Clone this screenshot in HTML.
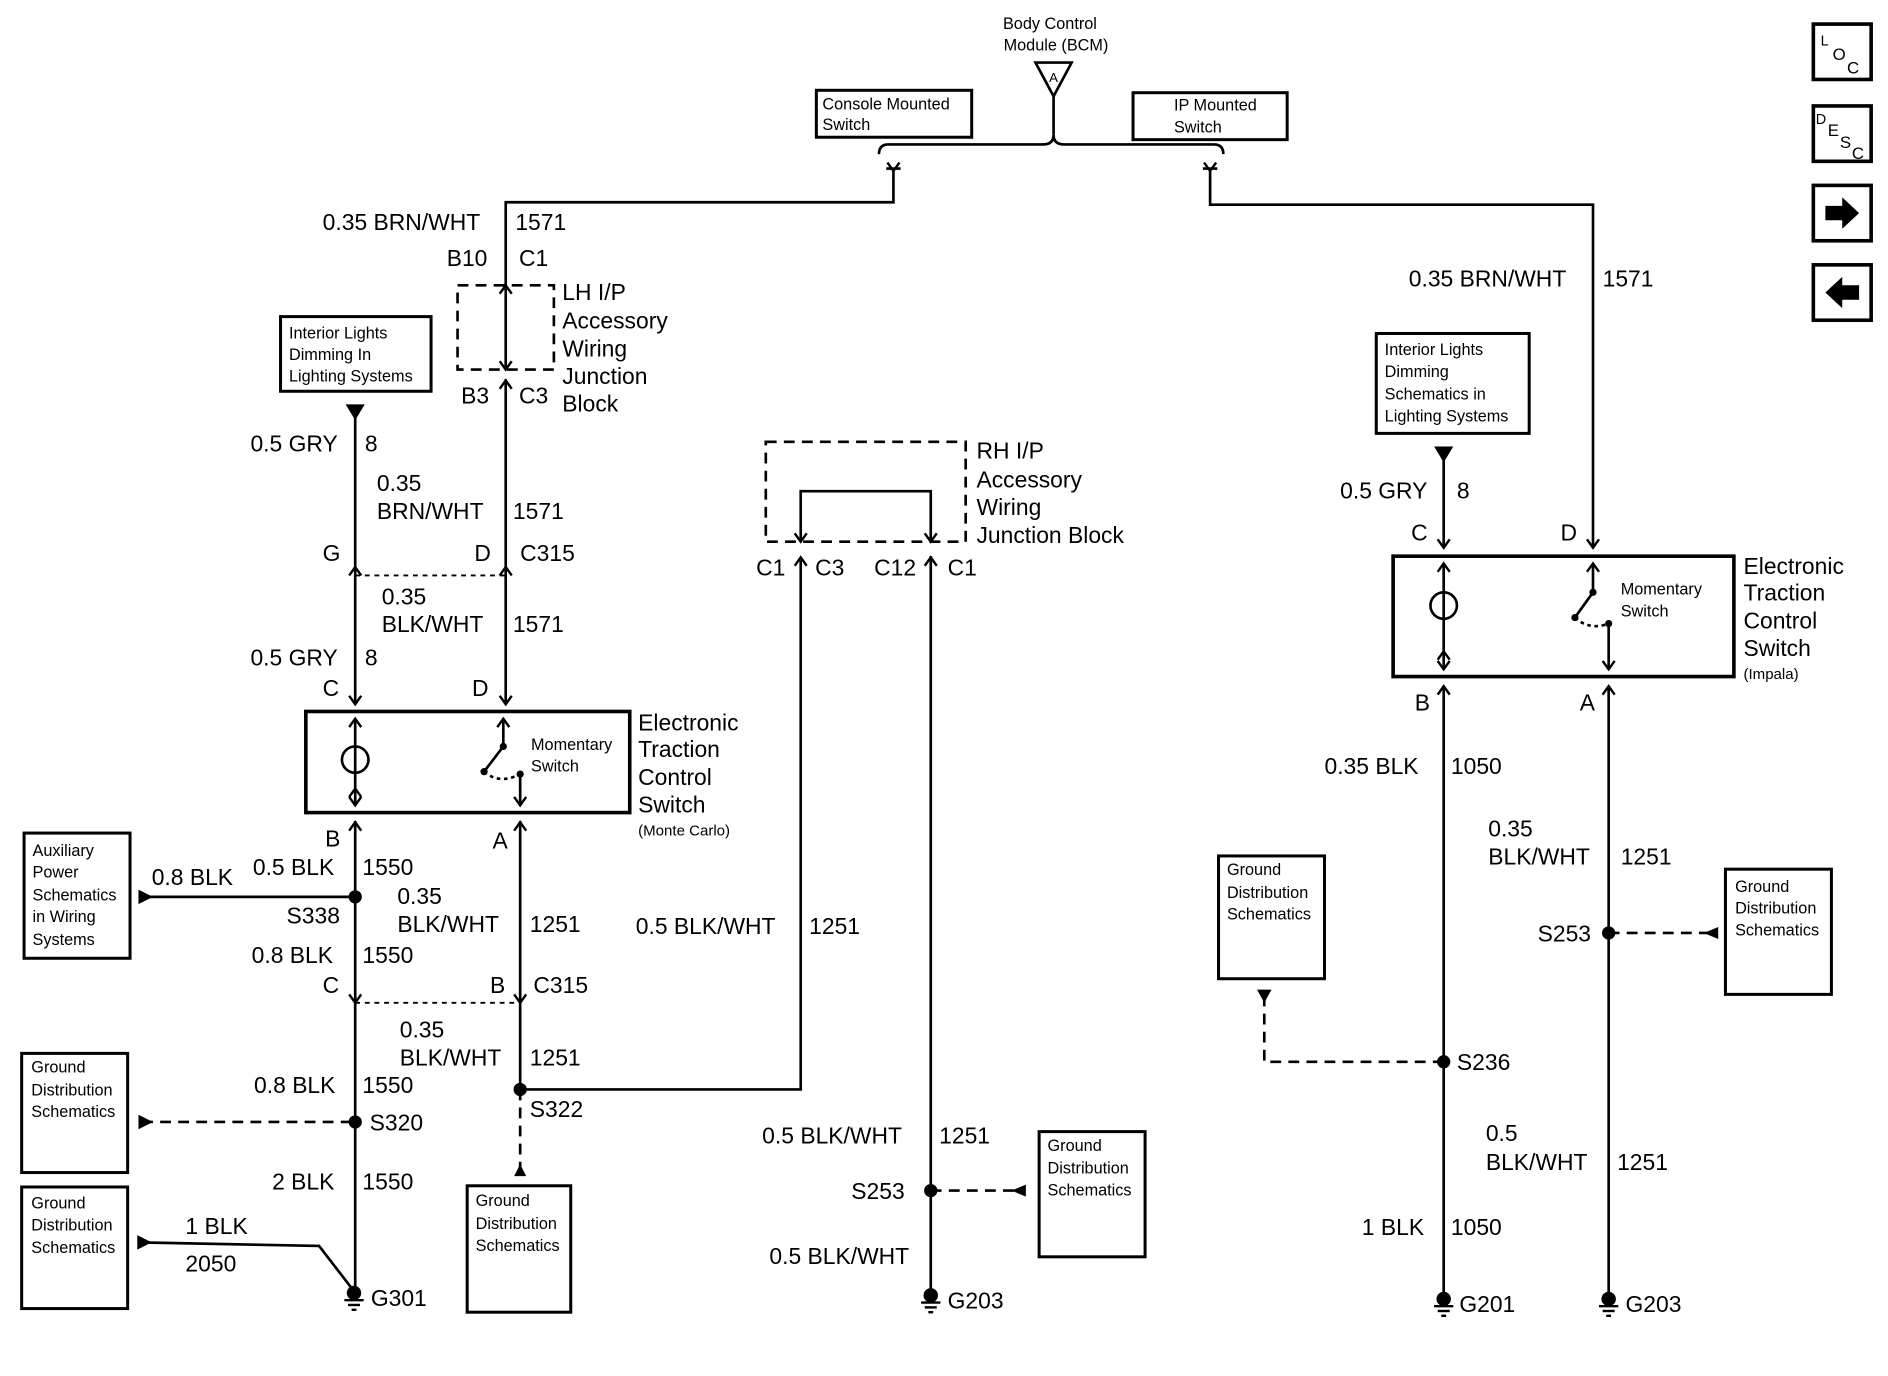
<!DOCTYPE html>
<html><head><meta charset="utf-8"><style>
html,body{margin:0;padding:0;background:#fff;}
svg{display:block;}
text{font-family:"Liberation Sans",Arial,sans-serif;fill:#000;}
.w{font-size:19px;}
.s{font-size:13.5px;}
.b{font-size:19px;}
</style></head><body>
<svg width="1888" height="1376" viewBox="0 0 1568 1143" preserveAspectRatio="none" xmlns="http://www.w3.org/2000/svg">
<defs>
<path id="fd" d="M-5,-7 L0,0 L5,-7" fill="none" stroke="#000" stroke-width="2"/>
<path id="fu" d="M-5,7 L0,0 L5,7" fill="none" stroke="#000" stroke-width="2"/>
<g id="gnd"><circle cx="0" cy="-4" r="6" fill="#000"/><line x1="-8" y1="2" x2="8" y2="2" stroke="#000" stroke-width="2"/><line x1="-5" y1="6" x2="5" y2="6" stroke="#000" stroke-width="2"/><line x1="-2" y1="10" x2="2" y2="10" stroke="#000" stroke-width="2"/></g>
<circle id="dot" r="5.5" fill="#000"/>
</defs>
<g stroke="#000" stroke-width="2.2" fill="none">
<path d="M860,52 L890,52 L875,80 Z"/>
<line x1="875" y1="80" x2="875" y2="112"/>
<path d="M730,128 Q730,120 738,120 L866,120 Q875,120 875,112 Q875,120 884,120 L1008,120 Q1016,120 1016,128"/>
<rect x="678" y="75" width="129" height="39" stroke-width="2.5"/>
<rect x="941" y="77" width="128" height="39" stroke-width="2.5"/>
<path d="M736,140 L748,140 M742,140 L742,168 L420,168 L420,240"/>
<path d="M999,140 L1011,140 M1005,140 L1005,170 L1323,170 L1323,455"/>
<rect x="380" y="237" width="80" height="70" stroke-dasharray="9,6"/>
<line x1="420" y1="240" x2="420" y2="305"/>
<line x1="420" y1="315" x2="420" y2="585"/>
<line x1="295" y1="345" x2="295" y2="585"/>
<path d="M289,337 L301,337 L295,347 Z" fill="#000"/>
<line x1="295" y1="478" x2="420" y2="478" stroke-dasharray="4,4" stroke-width="1.5"/>
<rect x="254" y="591" width="269" height="84" stroke-width="3"/>
<line x1="295" y1="597" x2="295" y2="669"/>
<circle cx="295" cy="631" r="11"/>
<line x1="418" y1="597" x2="418" y2="620"/>
<line x1="418" y1="620" x2="402" y2="641"/>
<line x1="432" y1="643" x2="432" y2="669"/>
<path d="M402,641 Q415,652 432,643" stroke-dasharray="3,3"/>
<line x1="295" y1="682" x2="295" y2="1070"/>
<line x1="432" y1="682" x2="432" y2="905"/>
<line x1="295" y1="833" x2="432" y2="833" stroke-dasharray="4,4" stroke-width="1.5"/>
<line x1="118" y1="745" x2="295" y2="745"/>
<line x1="118" y1="932" x2="295" y2="932" stroke-dasharray="9,6"/>
<path d="M115,1032 L265,1035 L292,1070"/>
<line x1="432" y1="905" x2="432" y2="972" stroke-dasharray="9,6"/>
<path d="M432,905 L665,905 L665,465"/>
<rect x="636" y="367" width="166" height="83" stroke-dasharray="9,6"/>
<path d="M665,448 L665,408 L773,408 L773,448"/>
<line x1="773" y1="462" x2="773" y2="1075"/>
<line x1="773" y1="989" x2="845" y2="989" stroke-dasharray="9,6"/>
<rect x="233" y="263" width="125" height="62" stroke-width="2.5"/>
<rect x="20" y="692" width="88" height="104" stroke-width="2.5"/>
<rect x="18" y="875" width="88" height="99" stroke-width="2.5"/>
<rect x="18" y="986" width="88" height="101" stroke-width="2.5"/>
<rect x="388" y="985" width="86" height="105" stroke-width="2.5"/>
<rect x="863" y="940" width="88" height="104" stroke-width="2.5"/>
<rect x="1143" y="277" width="127" height="83" stroke-width="2.5"/>
<rect x="1012" y="711" width="88" height="102" stroke-width="2.5"/>
<rect x="1433" y="722" width="88" height="104" stroke-width="2.5"/>
<line x1="1199" y1="380" x2="1199" y2="455"/>
<path d="M1193,372 L1205,372 L1199,382 Z" fill="#000"/>
<rect x="1157" y="462" width="283" height="100" stroke-width="3"/>
<line x1="1199" y1="468" x2="1199" y2="556"/>
<circle cx="1199" cy="503" r="11"/>
<line x1="1323" y1="468" x2="1323" y2="492"/>
<line x1="1323" y1="492" x2="1308" y2="513"/>
<line x1="1336" y1="518" x2="1336" y2="556"/>
<path d="M1308,513 Q1320,524 1336,518" stroke-dasharray="3,3"/>
<line x1="1199" y1="570" x2="1199" y2="1075"/>
<line x1="1336" y1="570" x2="1336" y2="1075"/>
<line x1="1336" y1="775" x2="1420" y2="775" stroke-dasharray="9,6"/>
<path d="M1199,882 L1050,882 L1050,825" stroke-dasharray="9,6"/>
<rect x="1506" y="20" width="48" height="46" stroke-width="3"/>
<rect x="1506" y="88" width="48" height="46" stroke-width="3"/>
<rect x="1506" y="154" width="48" height="46" stroke-width="3"/>
<rect x="1506" y="220" width="48" height="46" stroke-width="3"/>
</g>
<g fill="#000">
<path d="M127,745 L115,739 L115,751 Z"/>
<path d="M127,932 L115,926 L115,938 Z"/>
<path d="M126,1032 L114,1026 L114,1038 Z"/>
<path d="M432,967 L427,977 L437,977 Z"/>
<path d="M840,989 L852,984 L852,994 Z"/>
<path d="M1415,775 L1427,770 L1427,780 Z"/>
<path d="M1044,822 L1056,822 L1050,833 Z"/>
<path d="M1516,171 L1530,171 L1530,164 L1544,177 L1530,190 L1530,183 L1516,183 Z"/>
<path d="M1544,237 L1530,237 L1530,230 L1516,243 L1530,256 L1530,249 L1544,249 Z"/>
</g>
<use href="#fd" x="742" y="142"/><use href="#fd" x="1005" y="142"/>
<use href="#fu" x="420" y="237"/><use href="#fd" x="420" y="307"/><use href="#fu" x="420" y="316"/>
<use href="#fu" x="295" y="471"/><use href="#fu" x="420" y="471"/>
<use href="#fd" x="295" y="585"/><use href="#fd" x="420" y="585"/>
<use href="#fu" x="295" y="597"/><use href="#fu" x="418" y="597"/>
<use href="#fd" x="295" y="669"/><use href="#fd" x="432" y="669"/><use href="#fu" x="295" y="655"/>
<use href="#fu" x="295" y="683"/><use href="#fu" x="432" y="683"/>
<use href="#fd" x="295" y="833"/><use href="#fd" x="432" y="833"/>
<use href="#fd" x="665" y="450"/><use href="#fd" x="773" y="450"/>
<use href="#fu" x="665" y="463"/><use href="#fu" x="773" y="463"/>
<use href="#fd" x="1199" y="455"/><use href="#fd" x="1323" y="455"/>
<use href="#fu" x="1199" y="468"/><use href="#fu" x="1323" y="468"/>
<use href="#fd" x="1199" y="556"/><use href="#fd" x="1336" y="556"/><use href="#fu" x="1199" y="541"/>
<use href="#fu" x="1199" y="570"/><use href="#fu" x="1336" y="570"/>
<circle cx="418" cy="620" r="3" fill="#000"/><circle cx="402" cy="641" r="3" fill="#000"/><circle cx="432" cy="643" r="3" fill="#000"/>
<circle cx="1323" cy="492" r="3" fill="#000"/><circle cx="1308" cy="513" r="3" fill="#000"/><circle cx="1336" cy="518" r="3" fill="#000"/>
<use href="#dot" x="295" y="745"/><use href="#dot" x="295" y="932"/><use href="#dot" x="432" y="905"/>
<use href="#dot" x="773" y="989"/><use href="#dot" x="1199" y="882"/><use href="#dot" x="1336" y="775"/>
<use href="#gnd" x="294" y="1078"/><use href="#gnd" x="773" y="1080"/><use href="#gnd" x="1199" y="1083"/><use href="#gnd" x="1336" y="1083"/>

<text class="s" x="872" y="24" text-anchor="middle">Body Control</text>
<text class="s" x="877" y="42" text-anchor="middle">Module (BCM)</text>
<text class="s" x="875" y="68" text-anchor="middle" style="font-size:11px">A</text>
<text class="s" x="683" y="91">Console Mounted</text><text class="s" x="683" y="108">Switch</text>
<text class="s" x="975" y="92">IP Mounted</text><text class="s" x="975" y="110">Switch</text>

<text class="w" x="268" y="191">0.35 BRN/WHT</text><text class="w" x="428" y="191">1571</text>
<text class="w" x="371" y="221">B10</text><text class="w" x="431" y="221">C1</text>
<text class="b" x="467" y="249">LH I/P</text><text class="b" x="467" y="273">Accessory</text><text class="b" x="467" y="296">Wiring</text><text class="b" x="467" y="319">Junction</text><text class="b" x="467" y="342">Block</text>
<text class="w" x="383" y="335">B3</text><text class="w" x="431" y="335">C3</text>
<text class="s" x="240" y="281">Interior Lights</text><text class="s" x="240" y="299">Dimming In</text><text class="s" x="240" y="317">Lighting Systems</text>
<text class="w" x="208" y="375">0.5 GRY</text><text class="w" x="303" y="375">8</text>
<text class="w" x="313" y="408">0.35</text><text class="w" x="313" y="431">BRN/WHT</text><text class="w" x="426" y="431">1571</text>
<text class="w" x="268" y="466">G</text><text class="w" x="394" y="466">D</text><text class="w" x="432" y="466">C315</text>
<text class="w" x="317" y="502">0.35</text><text class="w" x="317" y="525">BLK/WHT</text><text class="w" x="426" y="525">1571</text>
<text class="w" x="208" y="553">0.5 GRY</text><text class="w" x="303" y="553">8</text>
<text class="w" x="268" y="578">C</text><text class="w" x="392" y="578">D</text>
<text class="s" x="441" y="623">Momentary</text><text class="s" x="441" y="641">Switch</text>
<text class="b" x="530" y="607">Electronic</text><text class="b" x="530" y="629">Traction</text><text class="b" x="530" y="652">Control</text><text class="b" x="530" y="675">Switch</text>
<text class="s" x="530" y="694" style="font-size:12.5px">(Monte Carlo)</text>
<text class="w" x="270" y="703">B</text><text class="w" x="409" y="705">A</text>
<text class="s" x="27" y="711">Auxiliary</text><text class="s" x="27" y="729">Power</text><text class="s" x="27" y="748">Schematics</text><text class="s" x="27" y="766">in Wiring</text><text class="s" x="27" y="785">Systems</text>
<text class="w" x="126" y="735">0.8 BLK</text><text class="w" x="210" y="727">0.5 BLK</text><text class="w" x="301" y="727">1550</text>
<text class="w" x="238" y="767">S338</text>
<text class="w" x="330" y="751">0.35</text><text class="w" x="330" y="774">BLK/WHT</text><text class="w" x="440" y="774">1251</text>
<text class="w" x="209" y="800">0.8 BLK</text><text class="w" x="301" y="800">1550</text>
<text class="w" x="268" y="825">C</text><text class="w" x="407" y="825">B</text><text class="w" x="443" y="825">C315</text>
<text class="w" x="332" y="862">0.35</text><text class="w" x="332" y="885">BLK/WHT</text><text class="w" x="440" y="885">1251</text>
<text class="w" x="211" y="908">0.8 BLK</text><text class="w" x="301" y="908">1550</text>
<text class="w" x="307" y="939">S320</text><text class="w" x="440" y="928">S322</text>
<text class="s" x="26" y="891">Ground</text><text class="s" x="26" y="910">Distribution</text><text class="s" x="26" y="928">Schematics</text>
<text class="w" x="226" y="988">2 BLK</text><text class="w" x="301" y="988">1550</text>
<text class="s" x="26" y="1004">Ground</text><text class="s" x="26" y="1022">Distribution</text><text class="s" x="26" y="1041">Schematics</text>
<text class="w" x="154" y="1025">1 BLK</text><text class="w" x="154" y="1056">2050</text>
<text class="w" x="308" y="1085">G301</text>
<text class="s" x="395" y="1002">Ground</text><text class="s" x="395" y="1021">Distribution</text><text class="s" x="395" y="1039">Schematics</text>

<text class="b" x="811" y="381">RH I/P</text><text class="b" x="811" y="405">Accessory</text><text class="b" x="811" y="428">Wiring</text><text class="b" x="811" y="451">Junction Block</text>
<text class="w" x="628" y="478">C1</text><text class="w" x="677" y="478">C3</text><text class="w" x="726" y="478">C12</text><text class="w" x="787" y="478">C1</text>
<text class="w" x="528" y="776">0.5 BLK/WHT</text><text class="w" x="672" y="776">1251</text>
<text class="w" x="633" y="950">0.5 BLK/WHT</text><text class="w" x="780" y="950">1251</text>
<text class="w" x="707" y="996">S253</text>
<text class="s" x="870" y="956">Ground</text><text class="s" x="870" y="975">Distribution</text><text class="s" x="870" y="993">Schematics</text>
<text class="w" x="639" y="1050">0.5 BLK/WHT</text>
<text class="w" x="787" y="1087">G203</text>

<text class="w" x="1170" y="238">0.35 BRN/WHT</text><text class="w" x="1331" y="238">1571</text>
<text class="s" x="1150" y="295">Interior Lights</text><text class="s" x="1150" y="313">Dimming</text><text class="s" x="1150" y="332">Schematics in</text><text class="s" x="1150" y="350">Lighting Systems</text>
<text class="w" x="1113" y="414">0.5 GRY</text><text class="w" x="1210" y="414">8</text>
<text class="w" x="1172" y="449">C</text><text class="w" x="1296" y="449">D</text>
<text class="s" x="1346" y="494">Momentary</text><text class="s" x="1346" y="512">Switch</text>
<text class="b" x="1448" y="477">Electronic</text><text class="b" x="1448" y="499">Traction</text><text class="b" x="1448" y="522">Control</text><text class="b" x="1448" y="545">Switch</text>
<text class="s" x="1448" y="564" style="font-size:12.5px">(Impala)</text>
<text class="w" x="1175" y="590">B</text><text class="w" x="1312" y="590">A</text>
<text class="w" x="1100" y="643">0.35 BLK</text><text class="w" x="1205" y="643">1050</text>
<text class="w" x="1236" y="695">0.35</text><text class="w" x="1236" y="718">BLK/WHT</text><text class="w" x="1346" y="718">1251</text>
<text class="s" x="1019" y="727">Ground</text><text class="s" x="1019" y="746">Distribution</text><text class="s" x="1019" y="764">Schematics</text>
<text class="s" x="1441" y="741">Ground</text><text class="s" x="1441" y="759">Distribution</text><text class="s" x="1441" y="777">Schematics</text>
<text class="w" x="1277" y="782">S253</text>
<text class="w" x="1210" y="889">S236</text>
<text class="w" x="1234" y="948">0.5</text><text class="w" x="1234" y="972">BLK/WHT</text><text class="w" x="1343" y="972">1251</text>
<text class="w" x="1131" y="1026">1 BLK</text><text class="w" x="1205" y="1026">1050</text>
<text class="w" x="1212" y="1090">G201</text><text class="w" x="1350" y="1090">G203</text>

<text x="1512" y="38" style="font-size:12px">L</text><text x="1522" y="50" style="font-size:14px">O</text><text x="1534" y="61" style="font-size:14px">C</text>
<text x="1508" y="103" style="font-size:12px">D</text><text x="1518" y="113" style="font-size:14px">E</text><text x="1528" y="123" style="font-size:14px">S</text><text x="1538" y="132" style="font-size:14px">C</text>
</svg>
</body></html>
